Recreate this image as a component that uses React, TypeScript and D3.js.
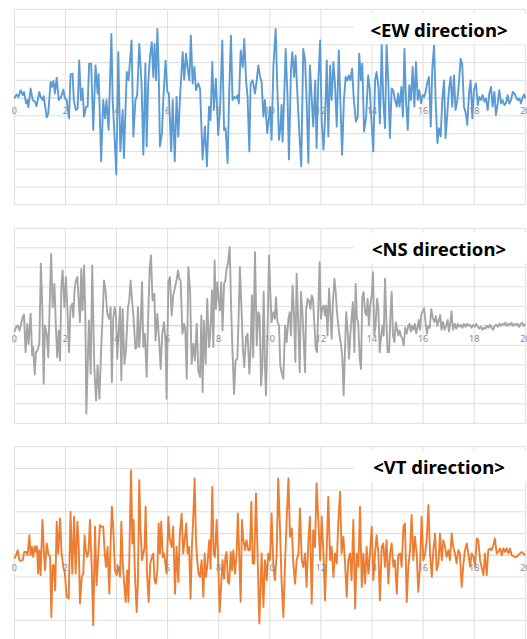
import React from 'react'
import * as d3 from 'd3'

// time (s), acceleration (grid units)
const ewData: [number, number][] = [
  [0, 0], [0.09, 0.2], [0.16, 0.07], [0.25, 0.45], [0.33, 0.17], [0.38, 0.35], [0.46, -0.3], [0.51, -0.11], [0.55, -0.52], [0.64, 0.54],
  [0.72, -0.11], [0.81, -0.2], [0.87, -0.45], [0.98, 0.35], [1.03, 0.07], [1.11, -0.11], [1.15, 0.11], [1.2, -0.39], [1.27, -1.08], [1.33, -0.86],
  [1.42, 0.91], [1.47, 0.63], [1.53, 0.97], [1.59, 0.26], [1.66, 1.15], [1.74, -0.11], [1.83, 0.07], [1.92, 0.48], [1.98, -0.02], [2.05, -0.11],
  [2.14, -1.14], [2.2, 1.34], [2.28, 1.38], [2.33, -0.11], [2.41, -0.67], [2.48, -0.58], [2.54, 2.12], [2.61, -0.11], [2.67, 0.54], [2.73, -1.04],
  [2.81, -0.48], [2.87, -0.48], [2.93, 1.94], [3.01, 1.94], [3.09, -1.79], [3.18, 1.84], [3.26, 0.26], [3.3, 1.34], [3.4, -3.56], [3.48, -0.11],
  [3.55, -1.14], [3.61, -0.11], [3.69, -1.79], [3.8, 3.61], [3.85, -0.11], [3.93, -2.35], [3.99, -4.3], [4.07, 2.59], [4.15, -3.0], [4.24, -0.67],
  [4.29, -3.37], [4.4, 1.47], [4.47, 1.0], [4.59, 3.24], [4.66, -2.16], [4.74, -0.11], [4.81, 0.17], [4.89, 3.05], [4.98, 0.82], [5.05, -3.18],
  [5.13, 1.94], [5.18, -2.72], [5.24, 0.82], [5.31, 2.31], [5.38, 3.15], [5.44, 1.19], [5.49, 3.05], [5.55, 1.0], [5.6, 3.89], [5.65, 1.75],
  [5.7, -2.72], [5.78, -1.97], [5.83, -0.11], [5.92, 2.12], [5.99, 0.35], [6.05, 0.26], [6.14, -3.0], [6.2, -0.11], [6.28, -3.56], [6.35, 0.07],
  [6.42, -2.16], [6.48, -0.11], [6.59, 2.59], [6.65, 1.04], [6.72, 2.5], [6.78, 1.75], [6.85, 1.0], [6.91, 3.52], [6.98, 0.82], [7.05, 1.75],
  [7.11, 0.45], [7.2, 0.82], [7.27, 0.54], [7.37, -3.46], [7.46, -1.6], [7.54, -3.84], [7.62, -0.48], [7.68, -1.23], [7.75, 2.03], [7.81, -0.67],
  [7.89, 1.1], [7.98, -2.07], [8.05, -0.67], [8.14, 3.24], [8.21, -1.79], [8.27, -1.69], [8.35, -3.65], [8.41, 0.26], [8.48, 3.52], [8.54, -0.11],
  [8.61, 0.07], [8.68, -0.02], [8.74, 0.17], [8.79, -0.3], [8.86, 2.68], [8.94, 1.75], [9.0, 3.33], [9.07, 1.0], [9.13, 0.07], [9.2, -3.0],
  [9.25, 0.82], [9.33, 1.0], [9.42, 0.26], [9.48, 0.91], [9.55, 1.84], [9.62, 1.19], [9.68, 0.91],
  [9.75, -1.04], [9.81, -0.11], [9.9, -1.97], [10.01, -0.48], [10.07, -2.35], [10.14, 1.75], [10.23, 3.89], [10.29, 0.82], [10.36, -2.35], [10.42, -1.6],
  [10.46, -0.39], [10.5, -2.44], [10.56, -0.11], [10.62, 2.77], [10.69, 0.26], [10.75, -3.46], [10.83, 1.66], [10.88, 2.59], [10.95, 1.19], [11.01, 2.4],
  [11.09, -0.11], [11.16, -2.07], [11.23, -3.84], [11.31, 2.77], [11.38, 2.12], [11.44, -0.11], [11.51, -3.65], [11.57, 1.84], [11.65, -0.3], [11.7, -1.6],
  [11.78, 1.0], [11.83, -2.81], [11.9, 1.0], [11.97, 3.24], [12.03, -1.23], [12.1, -2.9], [12.16, -1.23], [12.23, 2.12], [12.29, -2.16], [12.36, 1.84],
  [12.42, -0.11], [12.49, 2.03], [12.55, 0.82], [12.62, -1.6], [12.7, 2.68], [12.76, -0.11], [12.83, -3.18], [12.9, -0.11], [12.97, 1.19], [13.03, 1.0],
  [13.09, 1.28], [13.15, 1.0], [13.22, 1.66], [13.29, -0.11], [13.37, -1.32], [13.44, -1.04], [13.5, 2.5], [13.57, 1.0], [13.62, 1.94], [13.69, -1.88],
  [13.77, -1.04], [13.85, 1.28], [13.91, 0.54], [13.97, -1.04], [14.05, -3.0], [14.12, 1.0], [14.18, 1.47], [14.25, 0.63], [14.31, -1.42], [14.38, 3.05],
  [14.44, -0.11], [14.51, -1.69], [14.57, 3.05], [14.64, 0.82], [14.7, -2.25], [14.77, 0.54], [14.83, 0.45], [14.9, -0.11], [14.97, -0.48], [15.02, 0.26],
  [15.08, -0.48], [15.15, 0.63], [15.21, -1.04], [15.27, 2.77], [15.33, -0.11], [15.4, -1.79], [15.46, 0.73], [15.53, -0.11], [15.59, 1.75], [15.66, -0.48],
  [15.72, 2.03], [15.79, -0.11], [15.85, 0.45], [15.92, -0.3], [15.98, 0.17], [16.04, 0.07], [16.1, 0.35], [16.17, 0.91], [16.23, 1.19], [16.3, -1.6],
  [16.36, 1.66], [16.43, 2.96], [16.49, -0.11], [16.56, -2.53], [16.62, -1.69], [16.69, -2.16], [16.75, -0.11], [16.82, 1.0], [16.88, -2.25], [16.95, -0.86],
  [17.01, 0.45], [17.08, 1.19], [17.14, -0.48], [17.21, 1.28], [17.27, -0.67], [17.34, -0.11], [17.4, 0.82], [17.47, 2.22], [17.53, 1.94], [17.6, -0.48],
  [17.67, -0.86], [17.73, -1.51], [17.8, 0.35], [17.86, 1.0], [17.93, -1.14], [17.99, 0.45], [18.07, 0.82], [18.14, -0.39], [18.2, 0.07], [18.27, -0.11],
  [18.33, 0.17], [18.4, -0.2], [18.46, -0.02], [18.53, -0.67], [18.59, 0.26], [18.66, 0.63], [18.72, -0.48], [18.79, 0.35], [18.85, -0.95], [18.92, -0.3],
  [18.98, 0.45], [19.05, -0.3], [19.11, -0.11], [19.18, -0.39], [19.24, -0.3], [19.31, 0.17], [19.37, -0.3], [19.44, -0.11], [19.51, 0.35], [19.57, 0.26],
  [19.64, 0.07], [19.7, -0.11], [19.77, -0.02], [19.83, -0.3], [19.9, 0.07], [19.96, 0.2], [20.0, -0.02],
]

const nsData: [number, number][] = [
  [0, -0.32], [0.07, -0.07], [0.13, 0.02], [0.2, -0.24], [0.25, 0.02], [0.33, 0.44], [0.38, 0.58], [0.44, -1.35], [0.51, 0.1], [0.56, -0.92],
  [0.64, 0.62], [0.7, -1.52], [0.74, -1.09], [0.8, -2.5], [0.85, -1.35], [0.91, -1.26], [0.98, -0.92], [1.04, 3.18], [1.1, 0.79], [1.15, -2.97],
  [1.2, 0.02], [1.27, -0.41], [1.33, -1.61], [1.44, 3.69], [1.5, 0.96], [1.57, 2.15], [1.63, -0.15], [1.68, -1.61], [1.74, -0.24], [1.79, -1.78],
  [1.84, 1.98], [1.89, 2.84], [1.96, 0.96], [2.02, 2.5], [2.09, 0.44], [2.14, -1.35], [2.2, 0.96], [2.27, 1.13], [2.31, 0.44], [2.36, 1.9],
  [2.41, 2.32], [2.47, 2.5], [2.52, 1.3], [2.57, 0.19], [2.62, 2.92], [2.67, 0.79], [2.73, 3.09], [2.78, 0.62], [2.82, -4.51], [2.87, -2.12],
  [2.92, 0.27], [2.99, -2.46], [3.05, 3.09], [3.13, -2.12], [3.2, -3.83], [3.26, -2.03], [3.33, -3.74], [3.41, -0.84], [3.46, 0.62], [3.51, 2.32],
  [3.57, 1.81], [3.64, 0.62], [3.71, 0.36], [3.77, 0.96], [3.82, -2.89], [3.87, 0.36], [3.93, 0.96], [3.98, 0.53], [4.03, -1.69], [4.08, -0.41],
  [4.14, 0.96], [4.19, -2.8], [4.24, 0.87], [4.31, -1.95], [4.37, -1.26], [4.45, 0.96], [4.5, 1.3], [4.55, 2.32], [4.61, 1.3], [4.66, 0.53],
  [4.74, -1.18], [4.79, -1.09], [4.84, 0.96], [4.89, -1.09], [4.94, -0.07], [5.0, 2.24], [5.05, -1.09], [5.11, -0.41], [5.18, -2.63], [5.24, 0.44],
  [5.3, 3.01], [5.35, 3.61], [5.41, 1.3], [5.48, 1.64], [5.53, -0.75], [5.6, 0.62], [5.66, -0.58], [5.73, -2.21], [5.79, -0.41], [5.86, 0.19],
  [5.92, -0.84], [5.96, -3.74], [6.03, 2.24], [6.09, 2.5], [6.16, 0.53], [6.22, 1.56], [6.29, 1.98], [6.35, 2.32], [6.41, 2.84], [6.46, 2.41],
  [6.51, 2.32], [6.58, -0.41], [6.64, 0.1], [6.69, -0.15], [6.75, -2.72], [6.81, 3.01], [6.88, 1.81], [6.94, -1.95], [7.01, -0.92], [7.07, -1.78],
  [7.14, 0.1], [7.2, -2.29], [7.27, -2.63], [7.32, 0.53], [7.37, -3.4], [7.42, 0.27], [7.49, -1.95], [7.55, 1.38], [7.62, -1.09], [7.67, -0.41],
  [7.74, 1.81], [7.79, -1.09], [7.84, 3.35], [7.89, 0.87], [7.95, 2.24], [8.0, 1.3], [8.05, 0.79], [8.1, 2.24], [8.15, -0.24], [8.21, 2.15],
  [8.26, 2.32], [8.31, 2.92], [8.36, 3.18], [8.43, 4.03], [8.48, 1.3], [8.53, -0.92], [8.6, -3.49], [8.66, -1.78], [8.73, -1.69], [8.78, 0.44],
  [8.83, 3.01], [8.9, 0.62], [8.95, -1.26], [9.0, -2.12], [9.07, -0.58], [9.13, -0.41], [9.2, -2.46], [9.25, -1.18], [9.3, 1.56], [9.35, -1.61],
  [9.42, 3.78], [9.49, -1.01], [9.55, 0.7], [9.6, 0.53], [9.66, -3.06], [9.71, -2.03], [9.76, 1.73], [9.81, -2.03], [9.85, -3.57], [9.9, -1.01],
  [9.97, 3.61], [10.02, 1.73], [10.07, 0.19], [10.14, 0.7], [10.2, 0.36], [10.24, 1.47], [10.3, 0.19], [10.36, 0.02], [10.41, -2.03], [10.46, -2.38],
  [10.53, -2.72], [10.6, 0.02], [10.66, -0.84], [10.73, 0.36], [10.78, 0.7], [10.83, -0.5], [10.89, 2.07], [10.95, 0.53], [11.0, -1.86], [11.05, 2.67],
  [11.12, -0.15], [11.17, -2.38], [11.22, 1.73], [11.27, 0.87], [11.33, -0.84], [11.38, -2.38], [11.42, 0.79], [11.48, 1.38], [11.53, 1.3], [11.59, 0.87],
  [11.64, 1.56], [11.69, 1.38], [11.74, 0.19], [11.8, -1.18], [11.85, -1.35], [11.9, 1.04], [11.95, 3.26], [12.0, 0.36], [12.06, 0.96], [12.11, 1.04],
  [12.16, 0.53], [12.21, 1.04], [12.26, -0.5], [12.32, 1.9], [12.37, 0.7], [12.42, -0.67], [12.47, 1.21], [12.53, 2.41], [12.58, 1.73], [12.63, 0.7],
  [12.68, 0.02], [12.73, -0.5], [12.79, -1.01], [12.84, -1.69], [12.89, -3.57], [12.94, -1.35], [12.99, 0.7], [13.05, -0.32], [13.1, -1.69], [13.15, -0.5],
  [13.2, 0.36], [13.25, 1.21], [13.31, -1.35], [13.36, 2.15], [13.41, 0.36], [13.46, 0.19], [13.52, -1.69], [13.57, -2.21], [13.62, 1.47], [13.67, 1.73],
  [13.73, 0.7], [13.78, 0.53], [13.83, 1.38], [13.88, 0.02], [13.93, 1.04], [13.99, 1.56], [14.04, 2.75], [14.09, -0.5], [14.14, 0.02], [14.2, 1.38],
  [14.25, 0.87], [14.3, -1.35], [14.35, -0.67], [14.41, 0.02], [14.46, -0.5], [14.51, 2.41], [14.56, 0.36], [14.61, -1.35], [14.67, -1.35], [14.72, 0.53],
  [14.77, 1.73], [14.82, -0.5], [14.88, -0.84], [14.93, 0.19], [14.98, -0.15], [15.03, -0.5], [15.08, -0.24], [15.13, -0.5], [15.19, -0.67], [15.24, -1.01],
  [15.3, -0.1], [15.36, -0.4], [15.42, 0.0], [15.47, 0.1], [15.52, -0.3], [15.57, 0.0], [15.62, -0.2], [15.68, 0.1], [15.73, -0.4], [15.78, -0.1],
  [15.83, 0.3], [15.88, -0.2], [15.93, 0.6], [16.04, 0.9], [16.1, 0.1], [16.15, -0.4], [16.2, 0.0], [16.26, -0.1], [16.32, 0.85], [16.38, 0.4],
  [16.44, 0.2], [16.5, 0.5], [16.56, 0.0], [16.62, 0.3], [16.67, 0.55], [16.72, -0.2], [16.78, 0.2], [16.84, -0.2], [16.9, 0.0], [16.96, 0.3],
  [17.01, -0.3], [17.06, 0.1], [17.11, 0.75], [17.17, -0.2], [17.24, 0.1], [17.3, -0.15], [17.36, 0.1], [17.42, -0.05], [17.48, 0.05], [17.54, -0.1],
  [17.6, 0.1], [17.66, -0.05], [17.72, 0.1], [17.78, 0.0], [17.84, 0.05], [17.9, -0.1], [17.96, 0.05], [18.02, -0.05], [18.08, 0.1], [18.14, -0.05],
  [18.2, -0.15], [18.26, -0.05], [18.32, -0.2], [18.38, -0.1], [18.44, -0.15], [18.5, 0.0], [18.56, -0.1], [18.62, 0.05], [18.68, -0.1], [18.74, -0.2],
  [18.8, 0.0], [18.86, 0.05], [18.92, -0.05], [18.98, 0.1], [19.04, 0.0], [19.1, 0.1], [19.16, 0.05], [19.22, 0.15], [19.28, 0.0], [19.34, 0.1],
  [19.4, 0.05], [19.46, 0.15], [19.52, 0.0], [19.58, 0.1], [19.64, 0.05], [19.7, 0.1], [19.76, -0.05], [19.82, 0.1], [19.88, 0.15], [19.94, 0.0],
  [20.0, 0.1],
]

const vtData: [number, number][] = [
  [0, -0.15], [0.07, 0.0], [0.13, 0.23], [0.2, -0.23], [0.26, -0.26], [0.33, -0.23], [0.39, 0.15], [0.46, 0.15], [0.52, 0.0], [0.59, 0.92],
  [0.64, 0.0], [0.69, 0.38], [0.74, -0.08], [0.8, 0.42], [0.85, 0.15], [0.89, 0.42], [0.93, -0.85], [0.98, 0.23], [1.03, -0.92], [1.1, 1.62],
  [1.15, 0.38], [1.2, -0.69], [1.27, 0.54], [1.33, 0.08], [1.4, -0.08], [1.45, -2.85], [1.5, -0.46], [1.55, -0.46], [1.6, -1.62], [1.66, 1.54],
  [1.72, 0.08], [1.79, 1.69], [1.85, 0.08], [1.92, -0.54], [1.98, -0.85], [2.05, -1.92], [2.13, -2.0], [2.2, 2.0], [2.27, -0.85], [2.34, 1.77],
  [2.4, -0.85], [2.47, 1.54], [2.52, 0.54], [2.57, -2.23], [2.64, -1.0], [2.7, -0.85], [2.75, 0.92], [2.8, 0.23], [2.86, -0.08], [2.91, 0.23],
  [2.96, 1.62], [3.03, -0.54], [3.09, -3.23], [3.16, 1.31], [3.22, -1.38], [3.29, 0.08], [3.35, 1.38], [3.42, 1.31], [3.48, 1.31], [3.54, 0.08],
  [3.59, -0.54], [3.65, 0.38], [3.72, -1.77], [3.77, 0.62], [3.82, 2.23], [3.87, 1.31], [3.94, -0.69], [4.0, -0.92], [4.07, -0.54], [4.14, -1.0],
  [4.19, 1.54], [4.24, -0.23], [4.29, -1.15], [4.36, -2.15], [4.42, -0.69], [4.47, -2.15], [4.53, 1.62], [4.57, 3.92], [4.62, 0.54], [4.67, 1.62],
  [4.72, -0.85], [4.79, -2.62], [4.84, -1.15], [4.89, 3.46], [4.94, 1.15], [5.0, -0.23], [5.05, 0.08], [5.1, 0.38], [5.14, 2.23], [5.19, -0.69],
  [5.26, -2.15], [5.32, -0.38], [5.39, -0.08], [5.44, 0.08], [5.49, -1.15], [5.54, -1.31], [5.6, -0.69], [5.65, 1.46], [5.7, 0.08], [5.75, 1.54],
  [5.81, -0.08], [5.86, 0.08], [5.91, -0.38], [5.96, -0.85], [6.03, 1.77], [6.09, 0.69], [6.16, 0.38], [6.22, 1.31], [6.29, -1.77], [6.35, 0.38],
  [6.42, -1.23], [6.48, 1.0], [6.55, 1.92], [6.61, 0.08], [6.68, 0.85], [6.73, 1.46], [6.78, 0.08], [6.84, 0.38], [6.9, -2.0], [6.95, 0.38],
  [7.01, 1.92], [7.06, 3.54], [7.11, 0.69], [7.16, -0.23], [7.21, -0.85], [7.27, -1.0], [7.33, -0.23], [7.4, -1.92], [7.45, 0.08], [7.5, -1.0],
  [7.55, -0.54], [7.63, 0.69], [7.68, -0.62], [7.75, 3.15], [7.8, 0.08], [7.85, -0.08], [7.92, 1.62], [7.97, 0.08], [8.04, -2.62], [8.1, -1.31],
  [8.15, -0.23], [8.21, -1.08], [8.26, -0.08], [8.31, 0.15], [8.36, -1.23], [8.41, -1.31], [8.47, 0.15], [8.52, -0.69], [8.57, 0.23], [8.64, -0.85],
  [8.7, 0.08], [8.75, 1.92], [8.81, -0.23], [8.86, -2.15], [8.91, 1.62], [8.96, 0.77], [9.03, 0.23], [9.09, 0.69], [9.16, 0.23], [9.22, 0.23],
  [9.28, 2.46], [9.33, -0.38], [9.39, -0.38], [9.46, 2.85], [9.52, 0.08], [9.59, -3.15],
  [9.68, 0.08], [9.75, -2.38], [9.81, -0.23], [9.88, -1.15], [9.94, 0.08], [10.01, -0.23], [10.07, 1.92], [10.14, -0.54], [10.2, -1.15], [10.27, 0.08],
  [10.33, 3.54], [10.4, 1.15], [10.46, -1.15], [10.53, -2.85], [10.6, -0.23], [10.66, 1.62], [10.73, 3.54], [10.79, 0.85], [10.86, 1.23], [10.92, -0.38],
  [10.99, -1.31], [11.05, -0.23], [11.12, 0.08], [11.18, 2.15], [11.25, -0.23], [11.31, -0.54], [11.38, 0.08], [11.44, -1.46], [11.51, 0.69], [11.57, 1.77],
  [11.64, -2.23], [11.7, 1.15], [11.77, 0.38], [11.83, 3.31], [11.9, 1.62], [11.97, -0.23], [12.03, 1.77], [12.1, 0.08], [12.16, -2.08], [12.23, 0.38],
  [12.29, 2.69], [12.36, -0.23], [12.42, 0.38], [12.49, -1.0], [12.55, 0.08], [12.62, -0.38], [12.68, 1.46], [12.75, 2.92], [12.81, 0.08], [12.88, 0.85],
  [12.94, -0.23], [13.01, -1.92], [13.07, -0.23], [13.14, 0.08], [13.2, -1.15], [13.27, 1.62], [13.34, -2.46], [13.4, 0.08], [13.47, -0.54], [13.53, 2.23],
  [13.6, -1.46], [13.66, 0.08], [13.73, -1.31], [13.79, 0.38], [13.86, -0.85], [13.92, 0.08], [13.99, 1.31], [14.05, -1.15], [14.12, 0.08], [14.18, 0.92],
  [14.25, 0.08], [14.31, -2.08], [14.38, 0.38], [14.44, 0.54], [14.51, -0.54], [14.57, 0.69], [14.64, -1.31], [14.71, 0.08], [14.77, 0.54], [14.84, -0.54],
  [14.9, -0.23], [14.97, -1.77], [15.03, 0.0], [15.1, 0.08], [15.16, -0.54], [15.23, 1.31], [15.29, 1.46], [15.36, -2.15], [15.42, -0.54], [15.49, 0.23],
  [15.55, 1.85], [15.62, -0.23], [15.68, 0.85], [15.75, 0.08], [15.81, -1.69], [15.88, -0.54], [15.94, 1.77], [16.01, -0.23], [16.08, 0.08], [16.14, 0.69],
  [16.21, 2.31], [16.27, 0.08], [16.34, -1.0], [16.4, 0.23], [16.47, 1.0], [16.53, -0.69], [16.6, -0.38], [16.66, 1.0], [16.73, -0.23], [16.79, 0.69],
  [16.86, 0.38], [16.92, -0.08], [16.99, 0.23], [17.05, -0.23], [17.12, 1.0], [17.18, 0.38], [17.25, 0.08], [17.31, -0.38], [17.38, 0.23], [17.44, 0.08],
  [17.51, -1.46], [17.58, -0.38], [17.64, 0.23], [17.71, 0.54], [17.77, 0.08], [17.84, -0.54], [17.9, 0.08], [17.97, -0.08], [18.03, -0.54], [18.1, 0.77],
  [18.16, 0.69], [18.23, -0.23], [18.29, -0.54], [18.36, -0.92], [18.42, 0.08], [18.49, -0.92], [18.55, 0.23], [18.62, 0.31], [18.68, 0.23], [18.75, 0.46],
  [18.81, 0.77], [18.88, 0.08], [18.94, 0.15], [19.01, 0.31], [19.08, 0.0], [19.14, 0.31], [19.21, 0.15], [19.27, 0.31], [19.34, 0.08], [19.4, 0.31],
  [19.47, 0.0], [19.53, -0.05], [19.6, -0.08], [19.66, -0.08], [19.73, 0.0], [19.79, 0.08], [19.86, 0.15], [19.92, 0.08], [20.0, 0.0],
]

const xTicks = [0, 2, 4, 6, 8, 10, 12, 14, 16, 18, 20]
const titles = ['<EW direction>', '<NS direction>', '<VT direction>']
const colors = ['#5b9bd5', '#a5a5a5', '#ed7d31']

const W = 527
const H = 639

type PanelProps = {
  data: [number, number][]
  top: number
  bottom: number
  yMin: number
  yMax: number
  color: string
  title: string
}

function Panel({ data, top, bottom, yMin, yMax, color, title }: PanelProps) {
  const x = d3.scaleLinear().domain([0, 20]).range([14.3, 525.3])
  const y = d3.scaleLinear().domain([yMin, yMax]).range([bottom, top])
  const line = d3.line<[number, number]>().x(d => x(d[0])).y(d => y(d[1]))
  const yGrid = d3.range(yMin, yMax + 1)

  return (
    <g>
      {yGrid.map(v => (
        <line key={'h' + v} x1={x(0)} x2={x(20)} y1={y(v)} y2={y(v)}
          stroke={v === 0 ? '#c8c8c8' : '#dedede'} strokeWidth={1} />
      ))}
      {xTicks.map(t => (
        <line key={'v' + t} x1={x(t)} x2={x(t)} y1={top} y2={bottom} stroke="#dedede" strokeWidth={1} />
      ))}
      <path d={line(data) ?? ''} fill="none" stroke={color} strokeWidth={1.9} strokeLinejoin="round" />
      {xTicks.map(t => (
        <text key={'l' + t} x={x(t)} y={y(0) + 16} textAnchor="middle"
          fontFamily="'Noto Sans', sans-serif" fontSize={9} fill="#8c8c8c">{t}</text>
      ))}
      <rect x={354} y={top + 4} width={172} height={31} fill="#fff" />
      <text x={439} y={top + 27.3} textAnchor="middle" fontFamily="'Noto Sans', sans-serif"
        fontWeight={700} fontSize={18.5} fill="#000">{title}</text>
    </g>
  )
}

export default function App() {
  return (
    <svg width={W} height={H} style={{ position: 'absolute', left: 0, top: 0, background: '#fff' }}>
      <Panel data={ewData} top={9.3} bottom={204.7} yMin={-6} yMax={5} color={colors[0]} title={titles[0]} />
      <Panel data={nsData} top={228.3} bottom={423.3} yMin={-5} yMax={5} color={colors[1]} title={titles[1]} />
      <Panel data={vtData} top={446.7} bottom={663.7} yMin={-5} yMax={5} color={colors[2]} title={titles[2]} />
    </svg>
  )
}
